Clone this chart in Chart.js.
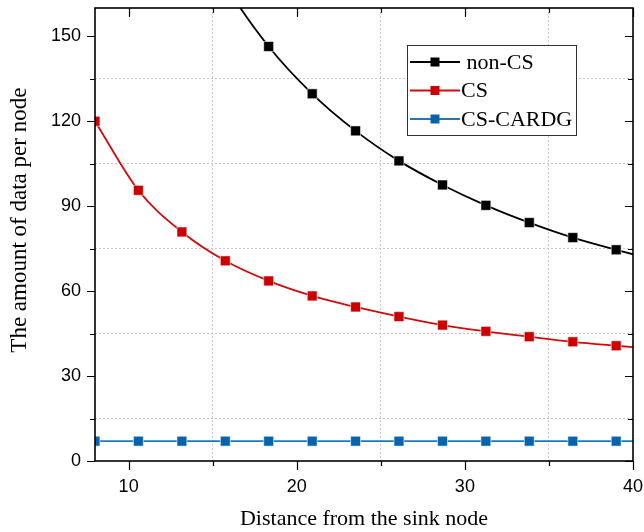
<!DOCTYPE html>
<html>
<head>
<meta charset="utf-8">
<script src="https://cdn.jsdelivr.net/npm/chart.js@4.4.0/dist/chart.umd.min.js"></script>
<style>
  html, body { margin: 0; padding: 0; background: #fff; }
  #wrap { width: 644px; height: 532px; position: relative; }
</style>
</head>
<body>
<div id="wrap"><canvas id="chart"></canvas></div>
<script>
// ================= DATA =================
// points beyond the axis limits are clipped by the chart area
const distance = [8, 10.58, 13.17, 15.75, 18.33, 20.92, 23.5, 26.08, 28.67, 31.25, 33.83, 36.42, 39, 41.58];
const nonCS    = [321, 245.6, 199.4, 168.5, 146.4, 129.7, 116.6, 106.0, 97.5, 90.3, 84.2, 78.9, 74.6, 70.6];
const cs       = [120, 95.6, 80.9, 70.7, 63.6, 58.3, 54.4, 51.0, 48.0, 45.8, 43.9, 42.1, 40.7, 39.4];
const csCardg  = [7, 7, 7, 7, 7, 7, 7, 7, 7, 7, 7, 7, 7, 7];

const seriesNames = [" non-CS", "CS", "CS-CARDG"];

const xTickValues = [10, 15, 20, 25, 30, 35, 40];
const xMajorTicks = [10, 20, 30, 40];
const yTickValues = [0, 15, 30, 45, 60, 75, 90, 105, 120, 135, 150];
const yMajorTicks = [0, 30, 60, 90, 120, 150];

// ================= HELPERS =================
const toPoints = values => values.map((v, i) => ({ x: distance[i], y: v }));
const GRID = "#c8c8c8";

function makeSeries(label, values, lineColor, markColor) {
    return {
        label,
        data: toPoints(values),
        borderColor: lineColor,
        backgroundColor: markColor,
        borderWidth: 1.8,
        cubicInterpolationMode: "monotone",
        pointStyle: "rect",
        pointRadius: 7,
        pointBorderWidth: 0.8,
        pointBorderColor: "rgba(255,255,255,0.7)",
        pointBackgroundColor: markColor
    };
}

// ================= FRAME, TICKS, LEGEND =================
const framePlugin = {
    id: "frame",
    afterDatasetsDraw(chart) {
        const { ctx, chartArea: a, scales: { x, y } } = chart;
        ctx.save();
        ctx.strokeStyle = "#000";
        ctx.lineWidth = 1.2;
        ctx.beginPath();
        xTickValues.forEach(v => {
            const px = Math.round(x.getPixelForValue(v)) + 0.5;
            const len = xMajorTicks.includes(v) ? 9 : 5;
            ctx.moveTo(px, a.bottom); ctx.lineTo(px, a.bottom + len);
            ctx.moveTo(px, a.top); ctx.lineTo(px, a.top + len);
        });
        yTickValues.forEach(v => {
            const py = Math.round(y.getPixelForValue(v)) + 0.5;
            const len = yMajorTicks.includes(v) ? 8 : 5;
            ctx.moveTo(a.left, py); ctx.lineTo(a.left - len, py);
            ctx.moveTo(a.right, py); ctx.lineTo(a.right - len, py);
        });
        ctx.stroke();
        ctx.lineWidth = 1.6;
        ctx.strokeRect(a.left, a.top, a.right - a.left, a.bottom - a.top);
        ctx.restore();
    },
    afterDraw(chart) {
        const { ctx } = chart;
        const box = { left: 407, top: 45, width: 169, height: 90 };
        ctx.save();
        ctx.fillStyle = "#fff";
        ctx.fillRect(box.left, box.top, box.width, box.height);
        ctx.strokeStyle = "#333";
        ctx.lineWidth = 1;
        ctx.strokeRect(box.left + 0.5, box.top + 0.5, box.width, box.height);
        ctx.font = "22px 'Liberation Serif'";
        ctx.textBaseline = "middle";
        chart.data.datasets.forEach((ds, i) => {
            const yy = box.top + 17 + i * 28.5;
            ctx.strokeStyle = ds.borderColor;
            ctx.lineWidth = 1.8;
            ctx.beginPath();
            ctx.moveTo(box.left + 3, yy);
            ctx.lineTo(box.left + 53, yy);
            ctx.stroke();
            ctx.fillStyle = ds.pointBackgroundColor;
            ctx.fillRect(box.left + 23.5, yy - 4.5, 9, 9);
            ctx.fillStyle = "#000";
            ctx.fillText(ds.label, box.left + 54, yy + 1);
        });
        ctx.restore();
    }
};

// ================= CHART =================
const chart = new Chart(document.getElementById("chart"), {
    type: "line",
    data: {
        datasets: [
            makeSeries(seriesNames[0], nonCS, "#000000", "#000000"),
            makeSeries(seriesNames[1], cs, "#d40a0a", "#cc0000"),
            makeSeries(seriesNames[2], csCardg, "#1f78bd", "#0a63aa")
        ]
    },
    options: {
        responsive: true,
        maintainAspectRatio: false,
        animation: false,
        layout: { padding: { top: 8, right: 11, left: 0, bottom: 0 } },
        plugins: { legend: { display: false }, tooltip: { enabled: false } },
        scales: {
            x: {
                type: "linear",
                min: 8,
                max: 40,
                afterBuildTicks: s => { s.ticks = xTickValues.map(v => ({ value: v })); },
                afterFit: s => { s.height = 71; s.paddingLeft = 0; s.paddingRight = 0; },
                border: { display: false, dash: [2, 2] },
                grid: {
                    drawTicks: false,
                    lineWidth: 1,
                    color: c => (c.tick && !xMajorTicks.includes(c.tick.value)) ? GRID : "rgba(0,0,0,0)"
                },
                ticks: {
                    padding: 15,
                    maxRotation: 0,
                    autoSkip: false,
                    color: "#000",
                    font: { family: "'Liberation Sans'", size: 18 },
                    callback: v => xMajorTicks.includes(v) ? String(v) : ""
                },
                title: {
                    display: true,
                    text: "Distance from the sink node",
                    color: "#000",
                    font: { family: "'Liberation Serif'", size: 22 },
                    padding: { top: 0, bottom: 0 }
                }
            },
            y: {
                min: 0,
                max: 160,
                afterBuildTicks: s => { s.ticks = yTickValues.map(v => ({ value: v })); },
                afterFit: s => { s.width = 95; s.paddingTop = 0; s.paddingBottom = 0; },
                border: { display: false, dash: [2, 2] },
                grid: {
                    drawTicks: false,
                    lineWidth: 1,
                    color: c => (c.tick && !yMajorTicks.includes(c.tick.value)) ? GRID : "rgba(0,0,0,0)"
                },
                ticks: {
                    padding: 14,
                    autoSkip: false,
                    color: "#000",
                    font: { family: "'Liberation Sans'", size: 18 },
                    callback: v => yMajorTicks.includes(v) ? String(v) : ""
                },
                title: {
                    display: true,
                    // leading spaces nudge the title above the axis centre, as in the original
                    text: "\u00A0\u00A0\u00A0\u00A0\u00A0The amount of data per node",
                    color: "#000",
                    font: { family: "'Liberation Serif'", size: 23 },
                    padding: { top: 6, bottom: 0 }
                }
            }
        }
    },
    plugins: [framePlugin]
});
</script>
</body>
</html>
